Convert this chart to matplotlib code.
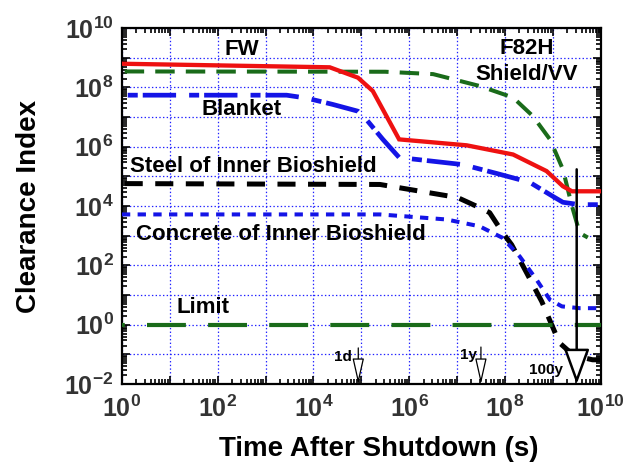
import numpy as np
import matplotlib
matplotlib.use('Agg')
import matplotlib.pyplot as plt
from matplotlib.ticker import LogLocator, FuncFormatter, NullFormatter

plt.rcParams['font.family'] = ['Liberation Sans', 'DejaVu Sans']
plt.rcParams['font.weight'] = 'bold'
plt.rcParams['mathtext.fontset'] = 'custom'
plt.rcParams['mathtext.bf'] = 'Liberation Sans:bold'
plt.rcParams['mathtext.rm'] = 'Liberation Sans:bold'
plt.rcParams['lines.scale_dashes'] = False

# curves, as log10(time [s]) and log10(clearance index)
fw_logt = [0, 4.34, 4.93, 5.24, 5.79, 7.2, 8.17, 8.87, 9.21, 9.4, 10]
fw_logci = [8.8, 8.68, 8.33, 7.88, 6.25, 6.05, 5.74, 5.18, 4.67, 4.5, 4.5]

vv_logt = [0, 5.5, 6.5, 7.47, 8.17, 8.58, 8.94, 9.21, 9.4, 9.56, 9.73]
vv_logci = [8.54, 8.53, 8.45, 8.05, 7.66, 7.04, 6.25, 5.24, 4.0, 3.1, 2.94]

bl_logt = [0, 3.44, 3.86, 4.4, 4.93, 5.1, 5.45, 5.79, 7.12, 7.83, 8.52, 9.0, 9.21, 9.56, 10]
bl_logci = [7.74, 7.74, 7.64, 7.43, 7.2, 6.93, 6.25, 5.64, 5.4, 5.1, 4.8, 4.33, 4.13, 4.05, 4.05]

st_logt = [0, 5.39, 7.01, 7.47, 7.68, 7.95, 8.14, 8.45, 8.77, 9.04, 9.14, 9.35, 9.56, 9.83, 10]
st_logci = [4.76, 4.73, 4.29, 3.95, 3.78, 3.11, 2.7, 1.76, 0.78, -0.24, -0.61, -0.91, -1.08, -1.18, -1.18]

co_logt = [0, 5.39, 6.78, 7.47, 7.95, 8.31, 8.66, 8.94, 9.19, 9.56, 9.92]
co_logci = [3.72, 3.72, 3.55, 3.32, 2.93, 2.3, 1.52, 0.84, 0.62, 0.56, 0.56]

limit_value = 1.0

# markers: 1 day, 1 year, 100 years (s)
t_1d = 8.64e4
t_1y = 3.15e7
t_100y = 3.15e9

red = '#ee1111'
green = '#1a6b1a'
blue = '#1414e6'


def pw(a):
    return 10 ** np.array(a)


fig = plt.figure(figsize=(6.35, 4.69), dpi=100)
ax = fig.add_axes([0.192, 0.181, 0.754, 0.759])

ax.plot(pw(fw_logt), pw(fw_logci), color=red, lw=3.1, solid_joinstyle='miter', zorder=5)
ax.plot(pw(vv_logt), pw(vv_logci), color=green, lw=2.9,
        linestyle=(20, (14, 8)), zorder=4)
ax.plot(pw(bl_logt), pw(bl_logci), color=blue, lw=3.4,
        linestyle=(40, (7.2, 3.6, 24, 9.4)), zorder=4)
ax.plot(pw(st_logt), pw(st_logci), color='black', lw=3.6,
        linestyle=(20, (13, 9)), zorder=4)
ax.plot(pw(co_logt), pw(co_logci), color=blue, lw=2.9,
        linestyle=(0, (6, 5.3)), zorder=4)
ax.plot([1, 1e10], [limit_value, limit_value], color=green, lw=3,
        linestyle=(26, (28, 16)), zorder=4)

ax.set_xscale('log')
ax.set_yscale('log')
ax.set_xlim(1, 1e10)
ax.set_ylim(1e-2, 1e10)

for axis in (ax.xaxis, ax.yaxis):
    axis.set_major_locator(LogLocator(base=10, numticks=100))
    axis.set_minor_locator(LogLocator(base=10, subs=np.arange(2, 10), numticks=100))
    axis.set_minor_formatter(NullFormatter())


def fmt(v, pos):
    e = int(round(np.log10(v)))
    if e % 2:
        return ''
    return r'$\mathbf{10^{%d}}$' % e


ax.xaxis.set_major_formatter(FuncFormatter(fmt))
ax.yaxis.set_major_formatter(FuncFormatter(fmt))

ax.tick_params(which='both', direction='in', top=True, right=True, width=1.2)
ax.tick_params(which='major', length=6, labelsize=18, labelcolor='#333333', pad=6)
ax.tick_params(axis='x', which='major', pad=8)
ax.tick_params(which='minor', length=3.5)
for s in ax.spines.values():
    s.set_linewidth(1.6)

ax.grid(True, which='major', color='#2020ff', linestyle=':', lw=0.9)

ax.set_xlabel('Time After Shutdown (s)', fontsize=20, fontweight='bold')
ax.set_ylabel('Clearance Index', fontsize=20, fontweight='bold')
ax.xaxis.set_label_coords(0.536, -0.145)
ax.yaxis.set_label_coords(-0.167, 0.5)

# curve labels
lab = dict(fontsize=16, fontweight='bold', color='black', va='center', zorder=6)
ax.text(10 ** 2.5, 10 ** 9.29, 'FW', ha='center', **lab)
ax.text(10 ** 2.5, 10 ** 7.26, 'Blanket', ha='center', **lab)
ax.text(10 ** 0.17, 10 ** 5.34, 'Steel of Inner Bioshield', ha='left', **lab)
ax.text(10 ** 0.29, 10 ** 3.04, 'Concrete of Inner Bioshield', ha='left', **lab)
ax.text(10 ** 1.13, 10 ** 0.57, 'Limit', ha='left', **lab)
ax.text(10 ** 8.46, 10 ** 9.32, 'F82H', ha='center', **lab)
ax.text(10 ** 8.46, 10 ** 8.45, 'Shield/VV', ha='center', **lab)

# time markers
small = dict(fontsize=11, fontweight='bold', ha='right', va='center', zorder=6)
ax.annotate('', xy=(t_1d, 1e-2), xytext=(t_1d, 10 ** -0.78),
            arrowprops=dict(arrowstyle='-|>,head_length=1.6,head_width=0.36',
                            fc='white', ec='black', lw=0.9, shrinkA=0, shrinkB=0))
ax.text(10 ** 4.8, 10 ** -1.08, '1d', **small)
ax.annotate('', xy=(t_1y, 1e-2), xytext=(t_1y, 10 ** -0.75),
            arrowprops=dict(arrowstyle='-|>,head_length=1.6,head_width=0.36',
                            fc='white', ec='black', lw=0.9, shrinkA=0, shrinkB=0))
ax.text(10 ** 7.41, 10 ** -1.01, '1y', **small)
ax.annotate('', xy=(t_100y, 1e-2), xytext=(t_100y, 10 ** 5.24),
            arrowprops=dict(arrowstyle='-|>,head_length=2.2,head_width=0.8',
                            fc='white', ec='black', lw=1.8, shrinkA=0, shrinkB=0),
            zorder=7)
ax.text(10 ** 9.21, 10 ** -1.52, '100y', **small)

fig.savefig('out.png', dpi=100)
